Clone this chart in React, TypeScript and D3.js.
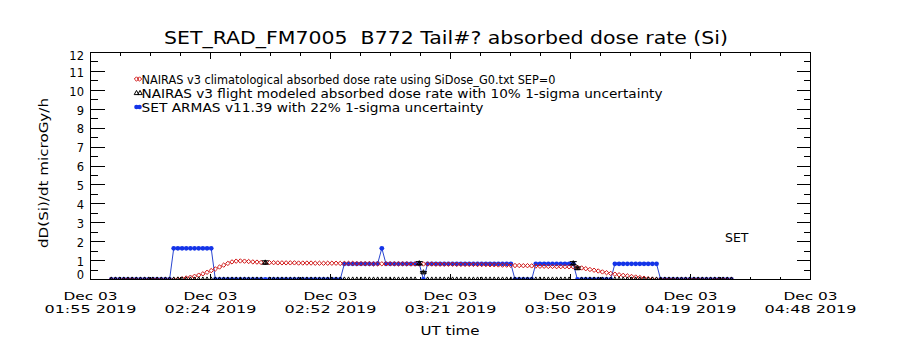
import React from 'react';
import * as d3 from 'd3';

// ---------- text ----------
const TITLE = 'SET_RAD_FM7005  B772 Tail#? absorbed dose rate (Si)';
const Y_LABEL = 'dD(Si)/dt microGy/h';
const X_LABEL = 'UT time';
const SIDE_NOTE = 'SET';
const X_TICK_DATE = ['Dec 03', 'Dec 03', 'Dec 03', 'Dec 03', 'Dec 03', 'Dec 03', 'Dec 03'];
const X_TICK_TIME = ['01:55 2019', '02:24 2019', '02:52 2019', '03:21 2019', '03:50 2019', '04:19 2019', '04:48 2019'];
const Y_TICKS = [0, 1, 2, 3, 4, 5, 6, 7, 8, 9, 10, 11, 12];
const LEGEND_LABELS = [
  'NAIRAS v3 climatological absorbed dose rate using SiDose_G0.txt SEP=0',
  'NAIRAS v3 flight modeled absorbed dose rate with 10% 1-sigma uncertainty',
  'SET ARMAS v11.39 with 22% 1-sigma uncertainty',
];

// ---------- data ----------
// time axis in minutes after 01:55 UT (01:55 -> 04:48)
const SPAN_MINUTES = 173;
const FIRST_SAMPLE_MINUTE = 5; // one sample per minute from here (minutes 5..154)
const FLIGHT_SIGMA = 0.1;

// NAIRAS climatological (red), minutes 5..154
const climatological = [
  0, 0, 0, 0, 0, 0, 0, 0, 0, 0, 0, 0, 0, 0, 0, 0,
  0.02, 0.04, 0.08, 0.12, 0.17, 0.23, 0.3, 0.38, 0.47, 0.56, 0.66, 0.76, 0.85, 0.93, 0.97, 0.98, 0.97, 0.95, 0.93, 0.92, 0.9,
  0.89, 0.89, 0.89, 0.88, 0.88, 0.88, 0.88, 0.88, 0.87,
  0.87, 0.87, 0.87, 0.86, 0.86, 0.86, 0.86, 0.86, 0.86, 0.85,
  0.85, 0.85, 0.85, 0.84, 0.84, 0.84, 0.84, 0.83, 0.83, 0.83,
  0.83, 0.83, 0.83, 0.83, 0.83, 0.83, 0.82, 0.82, 0.82, 0.82,
  0.82, 0.82, 0.81, 0.81, 0.81, 0.81, 0.81, 0.8, 0.8, 0.8,
  0.8, 0.8, 0.79, 0.79, 0.79, 0.78, 0.78, 0.77, 0.76, 0.76,
  0.75, 0.74, 0.74, 0.73, 0.73, 0.72, 0.71, 0.7, 0.7, 0.69,
  0.69, 0.68, 0.68, 0.68, 0.67, 0.67,
  0.65, 0.61, 0.57, 0.53, 0.49, 0.45, 0.4, 0.36, 0.32, 0.28, 0.25, 0.22, 0.19, 0.16, 0.13, 0.1, 0.07, 0.04, 0.02,
  0, 0, 0, 0, 0, 0, 0, 0, 0, 0, 0, 0, 0, 0, 0, 0, 0, 0, 0,
];

// NAIRAS flight modeled (black), minutes 5..154 (rows of 10)
const flightModeled = [
  0, 0, 0, 0, 0, 0, 0, 0, 0, 0,
  0, 0, 0, 0, 0, 0, 0, 0, 0, 0,
  0, 0, 0, 0, 0, 0, 0, 0, 0, 0,
  0, 0, 0, 0, 0, 0, 0, 0.9, 0, 0,
  0, 0, 0, 0, 0, 0, 0, 0, 0, 0,
  0, 0, 0, 0, 0, 0, 0, 0, 0, 0,
  0, 0, 0, 0, 0, 0, 0, 0, 0, 0,
  0, 0, 0, 0, 0.86, 0.38, 0, 0, 0, 0,
  0, 0, 0, 0, 0, 0, 0, 0, 0, 0,
  0, 0, 0, 0, 0, 0, 0, 0, 0, 0,
  0, 0, 0, 0, 0, 0, 0, 0, 0, 0,
  0, 0.86, 0.6, 0, 0, 0, 0, 0, 0, 0,
  0, 0, 0, 0, 0, 0, 0, 0, 0, 0,
  0, 0, 0, 0, 0, 0, 0, 0, 0, 0,
  0, 0, 0, 0, 0, 0, 0, 0, 0, 0,
];

// SET ARMAS (blue), minutes 5..154 (rows of 10)
const armas = [
  0, 0, 0, 0, 0, 0, 0, 0, 0, 0, // 5-14
  0, 0, 0, 0, 0, 1.65, 1.65, 1.65, 1.65, 1.65, // 15-24
  1.65, 1.65, 1.65, 1.65, 1.65, 0, 0, 0, 0, 0, // 25-34
  0, 0, 0, 0, 0, 0, 0, 0, 0, 0, // 35-44
  0, 0, 0, 0, 0, 0, 0, 0, 0, 0, // 45-54
  0, 0, 0, 0, 0, 0, 0.83, 0.83, 0.83, 0.83, // 55-64
  0.83, 0.83, 0.83, 0.83, 0.84, 1.65, 0.83, 0.83, 0.83, 0.83, // 65-74
  0.83, 0.83, 0.83, 0.83, 0.83, 0, 0.83, 0.83, 0.83, 0.83, // 75-84
  0.83, 0.83, 0.83, 0.83, 0.83, 0.83, 0.83, 0.83, 0.83, 0.83, // 85-94
  0.83, 0.83, 0.83, 0.83, 0.83, 0.83, 0.83, 0, 0, 0, // 95-104
  0, 0, 0.83, 0.83, 0.83, 0.83, 0.83, 0.83, 0.83, 0.83, // 105-114
  0.83, 0.83, 0, 0, 0, 0, 0, 0, 0, 0, // 115-124
  0, 0.83, 0.83, 0.83, 0.83, 0.83, 0.83, 0.83, 0.83, 0.83, // 125-134
  0.83, 0.83, 0, 0, 0, 0, 0, 0, 0, 0, // 135-144
  0, 0, 0, 0, 0, 0, 0, 0, 0, 0, // 145-154
];

// ---------- style ----------
const RED = '#d01414';
const BLUE = '#1434e8';
const BLUE_LINE = '#2a46d0';
const FONT = "'DejaVu Sans', sans-serif";

const L = 90.5, R = 810.5, T = 52.5, B = 279.5;

export default function App() {
  const x = d3.scaleLinear().domain([0, SPAN_MINUTES]).range([L, R]);
  const y = d3.scaleLinear().domain([0, 12]).range([B, T]);

  const minutes = d3.range(FIRST_SAMPLE_MINUTE, FIRST_SAMPLE_MINUTE + climatological.length);
  const redPts = minutes.map((m, i) => [x(m), y(climatological[i])] as [number, number]);
  const blkPts = minutes.map((m, i) => ({ m, v: flightModeled[i] }));
  const bluPts = minutes.map((m, i) => [x(m), y(armas[i])] as [number, number]);

  const blueLine = d3.line()(bluPts) || '';

  const diamond = (cx: number, cy: number, r = 2.2) =>
    `M${cx},${cy - r}L${cx + r},${cy}L${cx},${cy + r}L${cx - r},${cy}Z`;
  const tri = (cx: number, cy: number) =>
    `M${cx},${cy - 2.6}L${cx + 2.3},${cy + 1.6}L${cx - 2.3},${cy + 1.6}Z`;

  const majorX = d3.range(0, 7).map((i) => (i * SPAN_MINUTES) / 6);
  const minorX = d3.range(0, 25).map((i) => (i * SPAN_MINUTES) / 24);
  const minorY = d3.range(0, 24).map((i) => i / 2 + 0.5);

  const pxr = (v: number) => Math.floor(v) + 0.5;

  const legendY = [83.5, 97.5, 111.5];
  const legendLen = [414, 521, 342];

  return (
    <svg width={900} height={350} style={{ position: 'absolute', left: 0, top: 0, background: '#fff' }}
      fontFamily={FONT}>
      <rect x={0} y={0} width={900} height={350} fill="#fff" />
      <defs>
        <clipPath id="plotClip">
          <rect x={90} y={52} width={721} height={228} />
        </clipPath>
      </defs>

      {/* title */}
      <text x={446} y={44} textAnchor="middle" fontSize={18} textLength={564} lengthAdjust="spacingAndGlyphs"
        style={{ whiteSpace: 'pre' }}>
        {TITLE}
      </text>

      {/* data */}
      <g clipPath="url(#plotClip)">
        <path d={blueLine} fill="none" stroke={BLUE_LINE} strokeWidth={1} />
        {bluPts.map(([cx, cy], i) => (
          <circle key={'b' + i} cx={cx} cy={cy} r={2.4} fill={BLUE} />
        ))}
        {redPts.map(([cx, cy], i) => (
          <path key={'r' + i} d={diamond(cx, cy)} fill="none" stroke={RED} strokeWidth={1} />
        ))}
        {blkPts.map((p, i) => (
          <path key={'k' + i} d={tri(x(p.m), y(p.v))} fill="none" stroke="#000" strokeWidth={1} />
        ))}
        {blkPts.filter((p) => p.v > 0).map((p, i) => {
          const cx = x(p.m);
          const y0 = y(p.v * (1 - FLIGHT_SIGMA));
          const y1 = y(p.v * (1 + FLIGHT_SIGMA));
          return (
            <g key={'e' + i} stroke="#000" strokeWidth={1}>
              <line x1={cx} x2={cx} y1={y0} y2={y1} />
              <line x1={cx - 3.5} x2={cx + 3.5} y1={y0} y2={y0} />
              <line x1={cx - 3.5} x2={cx + 3.5} y1={y1} y2={y1} />
            </g>
          );
        })}
      </g>

      {/* frame & ticks */}
      <g stroke="#000" strokeWidth={1} shapeRendering="crispEdges" fill="none">
        <rect x={L} y={T} width={R - L} height={B - T} />
        {Y_TICKS.map((v) => (
          <g key={'yt' + v}>
            <line x1={L} x2={L + 14} y1={pxr(y(v))} y2={pxr(y(v))} />
            <line x1={R} x2={R - 14} y1={pxr(y(v))} y2={pxr(y(v))} />
          </g>
        ))}
        {minorY.filter((v) => !Y_TICKS.includes(v)).map((v) => (
          <g key={'ym' + v}>
            <line x1={L} x2={L + 7} y1={pxr(y(v))} y2={pxr(y(v))} />
            <line x1={R} x2={R - 7} y1={pxr(y(v))} y2={pxr(y(v))} />
          </g>
        ))}
        {majorX.map((m, i) => (
          <g key={'xt' + i}>
            <line x1={pxr(x(m))} x2={pxr(x(m))} y1={B} y2={B - 6} />
            <line x1={pxr(x(m))} x2={pxr(x(m))} y1={T} y2={T + 6} />
          </g>
        ))}
        {minorX.map((m, i) => (
          <g key={'xm' + i}>
            <line x1={pxr(x(m))} x2={pxr(x(m))} y1={B} y2={B - 3} />
            <line x1={pxr(x(m))} x2={pxr(x(m))} y1={T} y2={T + 3} />
          </g>
        ))}
      </g>

      {/* y tick labels */}
      {Y_TICKS.map((v) => {
        const c = Math.max(55.5, Math.min(274.5, y(v) + 1));
        return (
          <text key={'yl' + v} x={84} y={c + 4.3} textAnchor="end" fontSize={11.5}>
            {v}
          </text>
        );
      })}

      {/* x tick labels */}
      {majorX.map((m, i) => (
        <g key={'xl' + i}>
          <text x={x(m)} y={299.5} textAnchor="middle" fontSize={11} textLength={54} lengthAdjust="spacingAndGlyphs">
            {X_TICK_DATE[i]}
          </text>
          <text x={x(m)} y={312.5} textAnchor="middle" fontSize={11} textLength={92} lengthAdjust="spacingAndGlyphs">
            {X_TICK_TIME[i]}
          </text>
        </g>
      ))}

      <text x={450} y={335} textAnchor="middle" fontSize={12.5} textLength={59} lengthAdjust="spacingAndGlyphs">
        {X_LABEL}
      </text>

      <text transform="translate(48,173) rotate(-90)" textAnchor="middle" fontSize={12.5}
        textLength={150} lengthAdjust="spacingAndGlyphs">
        {Y_LABEL}
      </text>

      <text x={725} y={242.3} fontSize={12.5}>{SIDE_NOTE}</text>

      {/* legend */}
      <g>
        <path d={diamond(136.5, legendY[0] - 4.5)} fill="none" stroke={RED} />
        <path d={diamond(139.5, legendY[0] - 4.5)} fill="none" stroke={RED} />
        <path d={tri(136.5, legendY[1] - 4.5)} fill="none" stroke="#000" />
        <path d={tri(140, legendY[1] - 4.5)} fill="none" stroke="#000" />
        <line x1={136} x2={140} y1={legendY[2] - 4.5} y2={legendY[2] - 4.5} stroke={BLUE_LINE} />
        <circle cx={136.5} cy={legendY[2] - 4.5} r={2.3} fill={BLUE} />
        <circle cx={139.5} cy={legendY[2] - 4.5} r={2.3} fill={BLUE} />
        {LEGEND_LABELS.map((t, i) => (
          <text key={'lg' + i} x={141.5} y={legendY[i]} fontSize={12.5} textLength={legendLen[i]}
            lengthAdjust="spacingAndGlyphs">
            {t}
          </text>
        ))}
      </g>
    </svg>
  );
}
